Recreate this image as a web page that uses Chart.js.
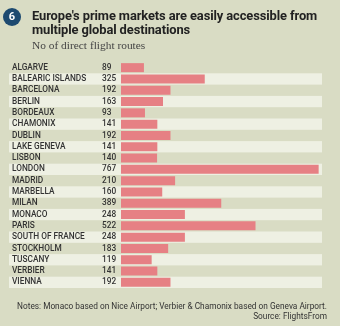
<!DOCTYPE html>
<html lang="en">
<head>
  <meta charset="UTF-8" />
  <title>Direct flight routes</title>
  <script src="https://cdn.jsdelivr.net/npm/chart.js"></script>
  <style>
    body { margin: 0; background: #d9dcc4; }
    .panel { position: relative; width: 340px; height: 326px; background: #d9dcc4; overflow: hidden; }
    .panel canvas { position: absolute; left: 0; top: 0; }
    .badge {
      position: absolute; left: 3px; top: 8px; width: 18px; height: 18px; border-radius: 50%;
      background: #1d4a70; color: #fff; font: bold 11px Roboto, sans-serif;
      text-align: center; line-height: 18px;
    }
    .title {
      position: absolute; left: 32px; top: 9px; width: 305px; margin: 0;
      font: bold 12.9px/13.5px Roboto, sans-serif; color: #222; letter-spacing: -0.1px;
    }
    .subtitle {
      position: absolute; left: 32px; top: 39px; margin: 0;
      font: 11.4px "Liberation Serif", serif; color: #444;
    }
    .notes {
      position: absolute; right: 13px; top: 301px; margin: 0; text-align: right;
      font: 8.3px/10px Roboto, sans-serif; color: #333;
    }
  </style>
</head>
<body>
  <div class="panel">
    <canvas id="routesChart" width="340" height="326"></canvas>
    <div class="badge">6</div>
    <h1 class="title">Europe's prime markets are easily accessible from multiple global destinations</h1>
    <p class="subtitle">No of direct flight routes</p>
    <p class="notes">Notes: Monaco based on Nice Airport; Verbier &amp; Chamonix based on Geneva Airport.<br>Source: FlightsFrom</p>
  </div>

  <script>
    const markets = [
      "ALGARVE", "BALEARIC ISLANDS", "BARCELONA", "BERLIN", "BORDEAUX",
      "CHAMONIX", "DUBLIN", "LAKE GENEVA", "LISBON", "LONDON",
      "MADRID", "MARBELLA", "MILAN", "MONACO", "PARIS",
      "SOUTH OF FRANCE", "STOCKHOLM", "TUSCANY", "VERBIER", "VIENNA"
    ];
    const routes = [
      89, 325, 192, 163, 93,
      141, 192, 141, 140, 767,
      210, 160, 389, 248, 522,
      248, 183, 119, 141, 192
    ];

    // striped rows behind every other market, from the label column to the plot edge
    const rowBands = {
      id: "rowBands",
      beforeDatasetsDraw(chart) {
        const { ctx, chartArea, scales } = chart;
        const step = scales.y.getPixelForValue(1) - scales.y.getPixelForValue(0);
        ctx.save();
        ctx.fillStyle = "#eef0e3";
        markets.forEach((m, i) => {
          if (i % 2 === 0) return;
          const y = scales.y.getPixelForValue(i);
          ctx.fillRect(9, y - step / 2, chartArea.right - 9, step);
        });
        ctx.restore();
      }
    };

    // market name on the left, route count just before the bar
    const rowText = {
      id: "rowText",
      afterDatasetsDraw(chart) {
        const { ctx, scales } = chart;
        ctx.save();
        ctx.fillStyle = "#333";
        ctx.textAlign = "left";
        ctx.textBaseline = "middle";
        markets.forEach((m, i) => {
          const y = scales.y.getPixelForValue(i);
          ctx.font = "500 8.3px Roboto, sans-serif";
          ctx.fillText(scales.y.getLabelForValue(i), 12, y);
          ctx.font = "500 8.3px Roboto, sans-serif";
          ctx.fillText(String(routes[i]), 102, y);
        });
        ctx.restore();
      }
    };

    new Chart(document.getElementById("routesChart"), {
      type: "bar",
      data: {
        labels: markets,
        datasets: [{
          data: routes,
          backgroundColor: "#e68084",
          borderWidth: 0,
          barPercentage: 0.8,
          categoryPercentage: 1
        }]
      },
      options: {
        indexAxis: "y",
        responsive: false,
        animation: false,
        layout: { padding: { left: 121, right: 18, top: 62, bottom: 38 } },
        plugins: { legend: { display: false }, tooltip: { enabled: false } },
        scales: {
          x: { display: false, min: 0, max: 780 },
          y: { display: false }
        }
      },
      plugins: [rowBands, rowText]
    });
  </script>
</body>
</html>
